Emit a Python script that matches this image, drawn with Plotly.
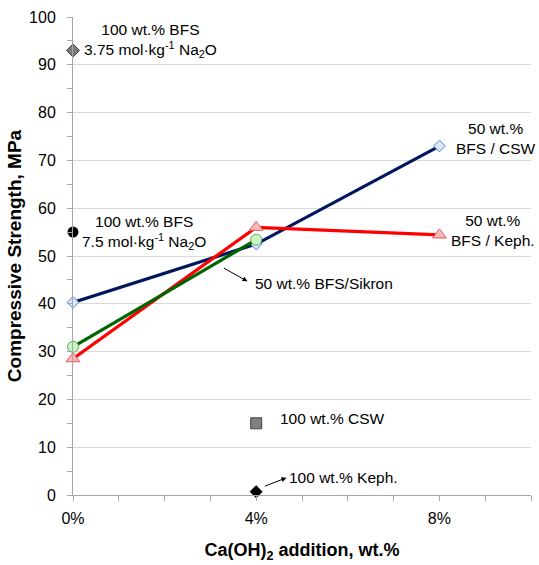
import plotly.graph_objects as go

# Ca(OH)2 addition (wt.%) and compressive strength (MPa)
x_ca = [0, 4, 8]
bfs_csw = [40.3, 52.5, 73.0]
bfs_keph = [28.5, 56.0, 54.4]
x_sikron = [0, 4]
bfs_sikron = [31.0, 53.4]

# single-precursor reference mixes
bfs_375_x, bfs_375_y = [0], [93.0]
bfs_75_x, bfs_75_y = [0], [55.0]
csw_x, csw_y = [4], [15.0]
keph_x, keph_y = [4], [0.7]

x_tickvals = [0, 4, 8]
x_ticktext = ["0%", "4%", "8%"]

FONT = "Liberation Sans, Arial, sans-serif"

fig = go.Figure()

fig.add_trace(go.Scatter(
    x=x_ca, y=bfs_csw, mode="lines+markers",
    line=dict(color="#00175f", width=3.2),
    marker=dict(symbol="diamond", size=9, color="#dbe6fb",
                line=dict(color="#5a7fd0", width=1)),
    showlegend=False, cliponaxis=False))
fig.add_trace(go.Scatter(
    x=x_ca, y=bfs_keph, mode="lines+markers",
    line=dict(color="#ff0000", width=3.2),
    marker=dict(symbol="triangle-up", size=12, color="#ffb9b9",
                line=dict(color="#e05a5a", width=1)),
    showlegend=False, cliponaxis=False))
fig.add_trace(go.Scatter(
    x=x_sikron, y=bfs_sikron, mode="lines+markers",
    line=dict(color="#006400", width=3.2),
    marker=dict(symbol="circle", size=11, color="#ccf5c4",
                line=dict(color="#5fae5f", width=1)),
    showlegend=False, cliponaxis=False))

fig.add_trace(go.Scatter(
    x=bfs_375_x, y=bfs_375_y, mode="markers",
    marker=dict(symbol="diamond", size=10, color="#7a7a7a",
                line=dict(color="#3a3a3a", width=1)),
    showlegend=False, cliponaxis=False))
fig.add_trace(go.Scatter(
    x=bfs_75_x, y=bfs_75_y, mode="markers",
    marker=dict(symbol="circle", size=11, color="#000000"),
    showlegend=False, cliponaxis=False))
fig.add_trace(go.Scatter(
    x=csw_x, y=csw_y, mode="markers",
    marker=dict(symbol="square", size=11, color="#808080",
                line=dict(color="#404040", width=1)),
    showlegend=False, cliponaxis=False))
fig.add_trace(go.Scatter(
    x=keph_x, y=keph_y, mode="markers",
    marker=dict(symbol="diamond", size=10, color="#000000"),
    showlegend=False, cliponaxis=False))

ann_font = dict(family=FONT, size=15.5, color="#000000")
annotations = [
    dict(x=1.70, y=95.0, text="100 wt.% BFS<br>3.75 mol·kg<sup>-1</sup> Na<sub>2</sub>O",
         showarrow=False, xanchor="center", yanchor="middle"),
    dict(x=1.55, y=55.0, text="100 wt.% BFS<br>7.5 mol·kg<sup>-1</sup> Na<sub>2</sub>O",
         showarrow=False, xanchor="center", yanchor="middle"),
    dict(x=9.24, y=74.6, text="50 wt.%<br>BFS / CSW",
         showarrow=False, xanchor="center", yanchor="middle"),
    dict(x=9.18, y=55.3, text="50 wt.%<br>BFS / Keph.",
         showarrow=False, xanchor="center", yanchor="middle"),
    dict(x=3.94, y=44.3, text="50 wt.% BFS/Sikron",
         showarrow=False, xanchor="left", yanchor="middle"),
    dict(x=4.47, y=16.0, text="100 wt.% CSW",
         showarrow=False, xanchor="left", yanchor="middle"),
    dict(x=4.68, y=3.6, text="100 wt.% Keph.",
         showarrow=False, xanchor="left", yanchor="middle"),
    # pointer arrows
    dict(x=3.81, y=44.7, ax=-25, ay=-14, text="", showarrow=True,
         arrowhead=2, arrowsize=1, arrowwidth=1, arrowcolor="#000000"),
    dict(x=4.66, y=3.6, ax=-23, ay=9, text="", showarrow=True,
         arrowhead=2, arrowsize=1, arrowwidth=1, arrowcolor="#000000"),
]
for a in annotations:
    a["font"] = ann_font

fig.update_layout(
    width=539, height=565,
    margin=dict(l=73, r=8, t=17, b=70),
    paper_bgcolor="white", plot_bgcolor="white",
    font=dict(family=FONT, size=16, color="#000000"),
    annotations=annotations,
    xaxis=dict(
        range=[0, 10], tickvals=x_tickvals, ticktext=x_ticktext,
        showgrid=False, zeroline=False,
        showline=True, linecolor="#a6a6a6", linewidth=1,
        ticks="outside", ticklen=5, tickcolor="#a6a6a6",
        minor=dict(dtick=1, ticks="outside", ticklen=5, tickcolor="#a6a6a6"),
        ticklabelstandoff=4,
        tickfont=dict(size=16),
        title=dict(text="<b>Ca(OH)<sub>2</sub> addition, wt.%</b>",
                   font=dict(size=18), standoff=17),
    ),
    yaxis=dict(
        range=[0, 100], dtick=10,
        showgrid=True, gridcolor="#d9d9d9", gridwidth=1, zeroline=False,
        showline=True, linecolor="#a6a6a6", linewidth=1,
        ticks="outside", ticklen=5, tickcolor="#a6a6a6",
        minor=dict(dtick=5, ticks="outside", ticklen=5, tickcolor="#a6a6a6"),
        ticklabelstandoff=8,
        tickfont=dict(size=16),
        title=dict(text="<b>Compressive Strength, MPa</b>",
                   font=dict(size=19), standoff=2),
    ),
)

fig.write_html("out.html")
